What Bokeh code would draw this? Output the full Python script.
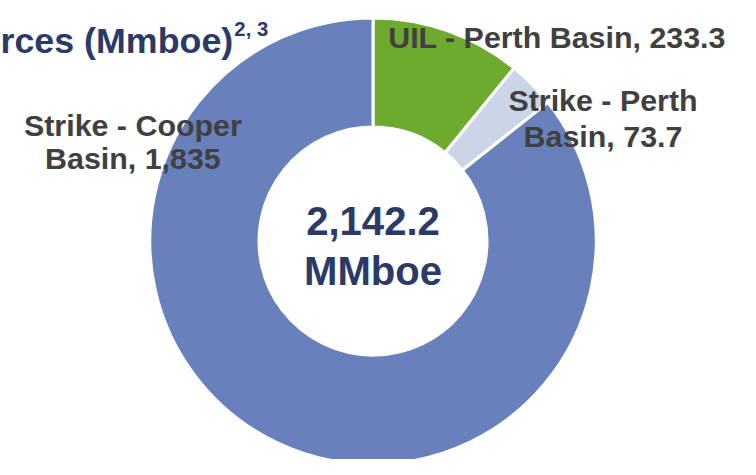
import math
from bokeh.plotting import figure
from bokeh.models import Range1d, ColumnDataSource
from bokeh.core.properties import value
from bokeh.embed import file_html
from bokeh.resources import INLINE

# ---- data ----
categories = ["UIL - Perth Basin", "Strike - Perth Basin", "Strike - Cooper Basin"]
values = [233.3, 73.7, 1835.0]
colors = ["#6EAA2E", "#CBD5E8", "#6880BC"]
wrap_label = [False, True, True]
total_value = 2142.2
total_unit = "MMboe"
title_text = "rces (Mmboe)"
title_sup = "2, 3"

# ---- layout: data units = reference pixels (y measured up from bottom) ----
W, H = 740, 459
REF_W, REF_H = 756, 475
s = H / REF_H                      # uniform scale, reference px -> screen px

def Y(py):
    return REF_H - py

def fs(px):
    return f"{px * s:.1f}px"

cx, cy = 385.5, Y(249)
r_in, r_out = 118, 231

p = figure(width=W, height=H, output_backend="svg", toolbar_location=None,
           x_range=Range1d(0, W / s), y_range=Range1d(0, REF_H),
           min_border=0, outline_line_color=None, background_fill_color="white")
p.axis.visible = False
p.grid.visible = False

total = sum(values)
starts, ends = [], []
a = math.pi / 2
for v in values:
    starts.append(a)
    a -= 2 * math.pi * v / total
    ends.append(a)

src = ColumnDataSource(dict(cat=categories, val=values, color=colors,
                            start=starts, end=ends))
p.annular_wedge(x=cx, y=cy, inner_radius=r_in, outer_radius=r_out,
                start_angle="start", end_angle="end", direction="clock",
                fill_color="color", line_color="white", line_width=3,
                source=src)

# ---- labels ----
font = value("Liberation Sans")
label_color = "#404040"
navy = "#2B3A67"

def fmt(v):
    return f"{v:,g}"

label_lines = []
for c, v, w in zip(categories, values, wrap_label):
    if w:
        head, tail = c.rsplit(" ", 1)
        label_lines.append([head, f"{tail}, {fmt(v)}"])
    else:
        label_lines.append([f"{c}, {fmt(v)}"])

# anchor (center x, first baseline y, line spacing) in reference px
anchors = [(576, 38, 36), (623.5, 103, 37), (137, 129, 34)]
lx, ly, lt = [], [], []
for lines, (ax, ay, sp) in zip(label_lines, anchors):
    for i, t in enumerate(lines):
        lx.append(ax)
        ly.append(Y(ay + i * sp))
        lt.append(t)
p.text(x=lx, y=ly, text=lt, text_align="center", text_baseline="alphabetic",
       text_font=font, text_font_style="bold", text_font_size=fs(31.5),
       text_color=label_color)

# center total
p.text(x=[cx, cx], y=[Y(228), Y(280)],
       text=[f"{total_value:,.1f}", total_unit],
       text_align="center", text_baseline="alphabetic",
       text_font=font, text_font_style="bold", text_font_size=fs(41.5),
       text_color=navy)

# title (as cropped in the reference)
p.text(x=[0], y=[Y(42)], text=[title_text], text_align="left",
       text_baseline="alphabetic", text_font=font, text_font_style="bold",
       text_font_size=fs(37), text_color=navy)
p.text(x=[242], y=[Y(30)], text=[title_sup], text_align="left",
       text_baseline="alphabetic", text_font=font, text_font_style="bold",
       text_font_size=fs(21), text_color=navy)

open("out.html", "w").write(file_html(p, INLINE))
